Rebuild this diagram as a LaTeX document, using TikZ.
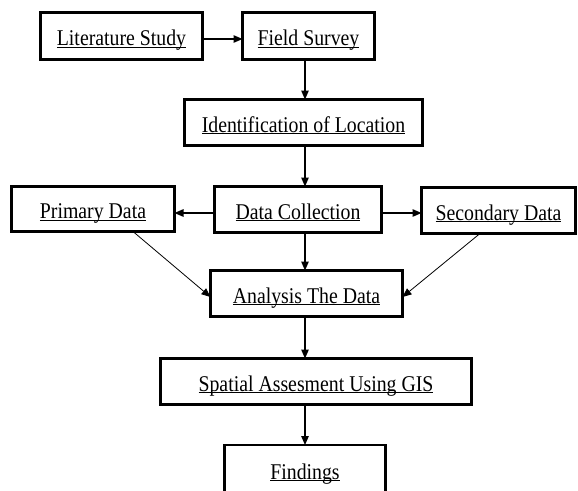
\documentclass[tikz,border=0pt]{standalone}
\usepackage{fontspec}
\setmainfont{Liberation Serif}[FakeStretch=0.88]
\usetikzlibrary{arrows.meta}

% underline sitting just below the baseline
\newcommand{\boxul}[1]{\underline{\smash{#1}}}

\tikzset{
  stepbox/.style={draw, line width=2.6pt, inner sep=0pt, outer sep=0pt,
    text height=19.5pt, text depth=0pt, align=center,
    font=\fontsize{22.5}{26}\selectfont},
  arr/.style={line width=1.2pt, -{Triangle[length=9pt,width=7.5pt]}},
  diag/.style={line width=0.8pt, -{Triangle[length=9pt,width=7.5pt]}},
}

\begin{document}
\begin{tikzpicture}[x=1pt, y=-1pt]
\useasboundingbox (0,0) rectangle (578,490);

% process boxes
\node[stepbox, minimum width=162pt, minimum height=47pt] (lit)   at (121.5,36)  {\boxul{Literature Study}};
\node[stepbox, minimum width=132pt, minimum height=47pt] (field) at (308.5,36)  {\boxul{Field Survey}};
\node[stepbox, minimum width=238pt, minimum height=46pt] (ident) at (303.5,122.5) {\boxul{Identification of Location}};
\node[stepbox, minimum width=167pt, minimum height=46pt] (dc)    at (298,209.5) {\boxul{Data Collection}};
\node[stepbox, minimum width=163pt, minimum height=45pt] (prim)  at (93,209)    {\boxul{Primary Data}};
\node[stepbox, minimum width=154pt, minimum height=46pt] (sec)   at (498.5,210.5) {\boxul{Secondary Data}};
\node[stepbox, minimum width=192pt, minimum height=46pt] (anal)  at (306.5,293.5) {\boxul{Analysis The Data}};
\node[stepbox, minimum width=311pt, minimum height=46pt] (spat)  at (316,381.5) {\boxul{Spatial Assesment Using GIS}};
\node[stepbox, overlay, minimum width=161pt, minimum height=54pt, text height=14pt] (find) at (305,472) {\boxul{Findings}};

% guide lines for the connectors
\coordinate (spine) at (305,0);
\coordinate (row) at (0,213);

% connectors
\draw[arr] ([yshift=-3pt]lit.east) -- ([yshift=-3pt]field.west);
\draw[arr] (field.south -| spine) -- (ident.north -| spine);
\draw[arr] (ident.south -| spine) -- (dc.north -| spine);
\draw[arr] (dc.west |- row) -- (prim.east |- row);
\draw[arr] (dc.east |- row) -- (sec.west |- row);
\draw[arr] (dc.south -| spine) -- (anal.north -| spine);
\draw[diag] ([xshift=40pt]prim.south) -- ([yshift=-3.5pt]anal.west);
\draw[diag] ([xshift=-18.5pt]sec.south) -- ([yshift=-3.5pt]anal.east);
\draw[arr] (anal.south -| spine) -- (spat.north -| spine);
\draw[arr] (spat.south -| spine) -- (find.north -| spine);
\end{tikzpicture}
\end{document}
